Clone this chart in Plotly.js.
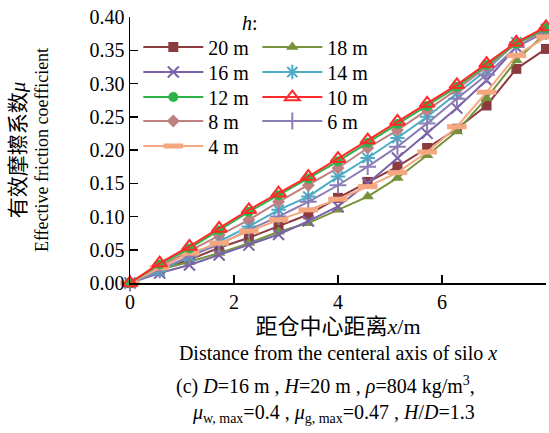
<!DOCTYPE html>
<html>
<head>
<meta charset="utf-8">
<script src="https://cdn.plot.ly/plotly-3.0.1.min.js"></script>
<style>html,body{margin:0;padding:0;background:#fff;}#chart{width:549px;height:433px;}</style>
</head>
<body>
<div id="chart"></div>
<script>
// x positions (m from silo axis)
const xValues = [0, 0.571, 1.143, 1.714, 2.286, 2.857, 3.429, 4.0, 4.571, 5.143, 5.714, 6.286, 6.857, 7.429, 8.0];

const seriesNames = ["20 m", "18 m", "16 m", "14 m", "12 m", "10 m", "8 m", "6 m", "4 m"];

const mu20 = [0, 0.020, 0.035, 0.053, 0.068, 0.085, 0.103, 0.128, 0.152, 0.175, 0.203, 0.232, 0.267, 0.322, 0.352];
const mu18 = [0, 0.020, 0.032, 0.045, 0.060, 0.077, 0.090, 0.110, 0.130, 0.158, 0.192, 0.228, 0.278, 0.335, 0.376];
const mu16 = [0, 0.015, 0.027, 0.042, 0.057, 0.073, 0.093, 0.115, 0.150, 0.188, 0.225, 0.263, 0.305, 0.355, 0.378];
const mu14 = [0, 0.018, 0.040, 0.062, 0.085, 0.110, 0.130, 0.160, 0.188, 0.218, 0.250, 0.285, 0.320, 0.362, 0.382];
const mu12 = [0, 0.028, 0.052, 0.079, 0.107, 0.132, 0.157, 0.183, 0.211, 0.239, 0.266, 0.295, 0.328, 0.360, 0.383];
const mu10 = [0, 0.030, 0.055, 0.082, 0.110, 0.135, 0.160, 0.187, 0.215, 0.243, 0.270, 0.298, 0.330, 0.362, 0.385];
const mu8  = [0, 0.025, 0.048, 0.072, 0.095, 0.122, 0.147, 0.173, 0.203, 0.230, 0.260, 0.291, 0.325, 0.360, 0.380];
const mu6  = [0, 0.020, 0.040, 0.058, 0.080, 0.100, 0.122, 0.147, 0.175, 0.205, 0.240, 0.277, 0.313, 0.355, 0.378];
const mu4  = [0, 0.023, 0.045, 0.060, 0.078, 0.095, 0.110, 0.126, 0.145, 0.166, 0.197, 0.235, 0.287, 0.342, 0.370];

const yTickVals = [0, 0.05, 0.10, 0.15, 0.20, 0.25, 0.30, 0.35, 0.40];
const xTickVals = [0, 2, 4, 6, 8];

const serif = "Liberation Serif";
const cjk = "Liberation Serif, Noto Sans CJK SC";

function tr(name, y, color, symbol, msize, mline, legend) {
  return {
    x: xValues, y: y, name: name, type: 'scatter', mode: 'lines+markers',
    line: {color: color, width: 2},
    marker: {symbol: symbol, size: msize, color: color, line: {color: color, width: mline}},
    cliponaxis: false, legend: legend
  };
}

const traces = [
  tr(seriesNames[0], mu20, '#8B3A3E', 'square', 10, 0, 'legend'),
  tr(seriesNames[1], mu18, '#77933C', 'triangle-up', 11, 0, 'legend'),
  tr(seriesNames[2], mu16, '#7A62A6', 'x-thin', 11, 2, 'legend2'),
  tr(seriesNames[3], mu14, '#4BACC6', 'asterisk', 12, 2, 'legend2'),
  tr(seriesNames[4], mu12, '#2DB34A', 'circle', 10, 0, 'legend3'),
  tr(seriesNames[5], mu10, '#FF2A2A', 'triangle-up-open', 13, 2, 'legend3'),
  tr(seriesNames[6], mu8,  '#BF8080', 'diamond', 10, 0, 'legend4'),
  tr(seriesNames[7], mu6,  '#8C7DB5', 'cross-thin', 12, 2, 'legend4'),
  tr(seriesNames[8], mu4,  '#F5A880', 'line-ew', 14, 5, 'legend5')
];
traces.forEach((t, i) => { t.legendrank = i; });
// draw red on top
const order = [0,1,2,3,6,7,8,4,5];
const data = order.map(i => traces[i]);

const axisFont = {family: serif, size: 20, color: '#000'};

function rowLegend(yc) {
  return {orientation: 'h', x: 0.02, y: yc, xanchor: 'left', yanchor: 'middle',
          bgcolor: 'rgba(0,0,0,0)', entrywidth: 44, entrywidthmode: 'pixels',
          itemwidth: 60, font: {family: serif, size: 20, color: '#000'}, traceorder: 'normal'};
}

const layout = {
  width: 549, height: 433,
  margin: {l: 130, r: 3, t: 17, b: 150},
  paper_bgcolor: '#fff', plot_bgcolor: '#fff',
  font: {family: serif, color: '#000'},
  xaxis: {
    range: [0, 8], tickvals: xTickVals, ticktext: xTickVals.map(String),
    ticks: 'inside', ticklen: 8, tickwidth: 1.5, tickcolor: '#000',
    showline: true, linecolor: '#000', linewidth: 1.5,
    showgrid: false, zeroline: false, tickfont: axisFont,
    title: {text: '<span style="font-size:22px">距仓中心距离<i>x</i>/m</span><br>Distance from the centeral axis of silo <i>x</i>',
            font: {family: cjk, size: 20, color: '#000'}, standoff: 8}
  },
  yaxis: {
    range: [0, 0.4], tickvals: yTickVals, ticktext: yTickVals.map(v => v.toFixed(2)),
    ticks: 'inside', ticklen: 8, tickwidth: 1.5, tickcolor: '#000',
    showline: true, linecolor: '#000', linewidth: 1.5,
    showgrid: false, zeroline: false, tickfont: axisFont,
    title: {text: '<span style="font-size:21px">有效摩擦系数<i>μ</i></span><br>Effective friction coefficient',
            font: {family: cjk, size: 18, color: '#000'}, standoff: 36}
  },
  showlegend: true,
  legend: rowLegend(0.887),
  legend2: rowLegend(0.793),
  legend3: rowLegend(0.699),
  legend4: rowLegend(0.609),
  legend5: rowLegend(0.515),
  annotations: [
    {text: '<i>h</i>:', xref: 'paper', yref: 'paper', x: 0.288, y: 0.978, xanchor: 'center', yanchor: 'middle',
     showarrow: false, font: {family: serif, size: 20, color: '#000'}},
    {text: '(c) <i>D</i>=16 m , <i>H</i>=20 m , <i>ρ</i>=804 kg/m<sup>3</sup>,', xref: 'paper', yref: 'paper',
     x: 0.47, y: -0.385, xanchor: 'center', yanchor: 'middle', showarrow: false,
     font: {family: serif, size: 20, color: '#000'}},
    {text: '<i>μ</i><sub>w, max</sub>=0.4 , <i>μ</i><sub>g, max</sub>=0.47 , <i>H</i>/<i>D</i>=1.3', xref: 'paper', yref: 'paper',
     x: 0.49, y: -0.49, xanchor: 'center', yanchor: 'middle', showarrow: false,
     font: {family: serif, size: 20, color: '#000'}}
  ]
};

Plotly.newPlot('chart', data, layout, {displayModeBar: false, staticPlot: true});
</script>
</body>
</html>
